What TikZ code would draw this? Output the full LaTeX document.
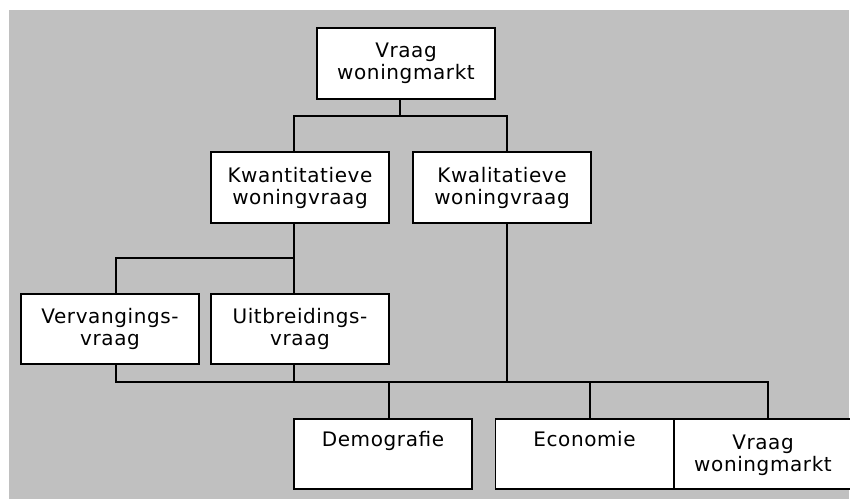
\documentclass[tikz,border=0pt]{standalone}
\usepackage{fontspec}
\setmainfont{DejaVu Sans}[LetterSpace=3]
\definecolor{panelgray}{RGB}{192,192,192}
\newcommand{\boxfont}{\fontsize{20}{22}\selectfont}
\begin{document}
\begin{tikzpicture}[x=1pt,y=-1pt,
  box/.style={draw=black, line width=1.5pt, fill=white, inner sep=0pt,
    minimum width=178pt, minimum height=71pt, align=center, font=\boxfont},
  topbox/.style={draw=black, line width=1.5pt, fill=white, inner sep=0pt,
    minimum width=178pt, font=\boxfont},
  link/.style={draw=black, line width=1.4pt}]
\useasboundingbox (0,0) rectangle (850,499);
\fill[panelgray] (9,10) rectangle (849,499);

% upper levels
\node[box] (vraag) at (406,63.5) {Vraag\\woningmarkt};
\node[box] (kwant) at (300,187.5) {Kwantitatieve\\woningvraag};
\node[box] (kwal)  at (502,187.5) {Kwalitatieve\\woningvraag};
\node[box, minimum height=70pt] (verv) at (110,329) {Vervangings-\\vraag};
\node[box, minimum height=70pt] (uitb) at (300,329) {Uitbreidings-\\vraag};

% bottom row, text set from the top edge
\node[topbox, text height=27.3pt, text depth=42.7pt] (demo) at (383,418) [anchor=north] {Demografie};
\node[topbox, text height=27.3pt, text depth=42.7pt] (econ) at (584.5,418) [anchor=north] {Economie};
\node[topbox, text height=30.3pt, text depth=39.7pt] (vraagb) at (763,418) [anchor=north]
  {\begin{tabular}[t]{@{}c@{}}Vraag\\woningmarkt\end{tabular}};

% junction points of the connectors
\coordinate (j0) at (400,116);
\coordinate (jl) at (294,116);
\coordinate (jr) at (507,116);
\coordinate (k0) at (294,258);
\coordinate (kl) at (116,258);
\coordinate (b1) at (116,382);
\coordinate (b2) at (294,382);
\coordinate (b3) at (507,382);
\coordinate (b4) at (389,382);
\coordinate (b5) at (590,382);
\coordinate (b6) at (768,382);

% first level
\draw[link] (j0 |- vraag.south) -- (j0);
\draw[link] (jl |- kwant.north) -- (jl) -- (jr) -- (jr |- kwal.north);

% quantitative branch
\draw[link] (k0 |- kwant.south) -- (k0 |- uitb.north);
\draw[link] (k0) -- (kl) -- (kl |- verv.north);

% collecting line above the factors
\draw[link] (b1 |- verv.south) -- (b1) -- (b6) -- (b6 |- vraagb.north);
\draw[link] (b2 |- uitb.south) -- (b2);
\draw[link] (b3 |- kwal.south) -- (b3);
\draw[link] (b4) -- (b4 |- demo.north);
\draw[link] (b5) -- (b5 |- econ.north);
\end{tikzpicture}
\end{document}
